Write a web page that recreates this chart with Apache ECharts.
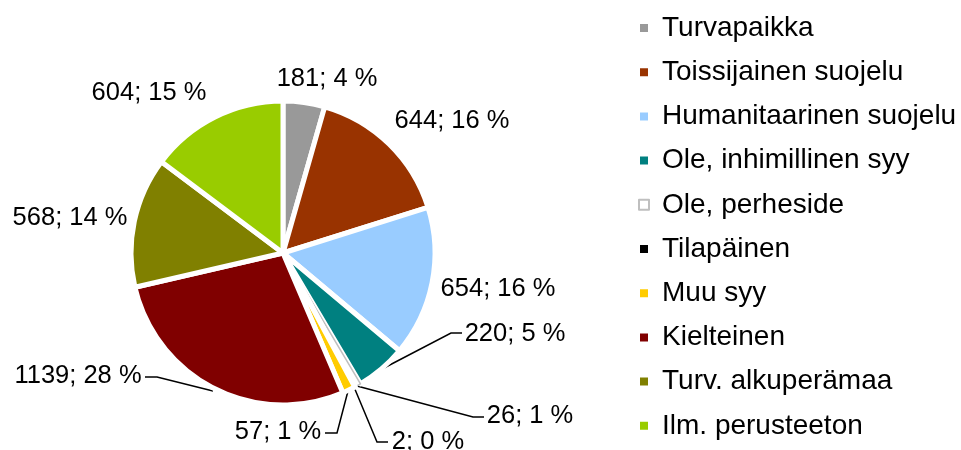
<!DOCTYPE html>
<html>
	<head>
		<meta charset="utf-8">
		<title>Päätökset</title>
		<script src="https://cdn.jsdelivr.net/npm/echarts@6/dist/echarts.min.js" type="text/javascript"></script>
		<style type="text/css">
			html,body{margin: 0; padding: 0; background-color: #fff;}
			#main{width: 961px; height: 450px;}
		</style>
	</head>
	<body>
		<div id="main"></div>
		<script type="text/javascript">
			// 数据
			var categories = ['Turvapaikka', 'Toissijainen suojelu', 'Humanitaarinen suojelu', 'Ole, inhimillinen syy',
				'Ole, perheside', 'Tilapäinen', 'Muu syy', 'Kielteinen', 'Turv. alkuperämaa', 'Ilm. perusteeton'];
			var values = [181, 644, 654, 220, 26, 2, 57, 1139, 568, 604];
			var colors = ['#999999', '#993300', '#99ccff', '#008080', '#ffffff', '#000000', '#ffcc00', '#800000', '#808000', '#99cc00'];

			// 标签位置 (中心点) 和引导线
			var labelPos = [
				{x: 327, y: 79},
				{x: 452, y: 121},
				{x: 498, y: 289},
				{x: 515, y: 334, line: [[382, 369], [451, 333], [462, 333]]},
				{x: 530, y: 416, line: [[357, 386], [473, 417], [484, 417]]},
				{x: 428, y: 442, line: [[354, 387], [377, 442], [388, 442]]},
				{x: 278, y: 432, line: [[348, 391], [337, 433], [325, 433]]},
				{x: 78, y: 376, line: [[213, 391], [157, 377], [145, 377]]},
				{x: 70, y: 218},
				{x: 149, y: 93}
			];

			var pieData = categories.map(function (name, i) {
				var item = {
					name: name,
					value: values[i],
					itemStyle: {color: colors[i]},
					labelLine: {show: !!labelPos[i].line}
				};
				if (name === 'Ole, perheside') {
					item.itemStyle = {color: '#ffffff', borderColor: '#bfbfbf', borderWidth: 1.5};
				}
				return item;
			});

			var myChart = echarts.init(document.getElementById('main'), null, {renderer: 'canvas'});

			var option = {
				animation: false,
				legend: {
					orient: 'vertical',
					left: 633,
					top: 9,
					itemWidth: 10,
					itemHeight: 10,
					itemGap: 16.2,
					icon: 'rect',
					data: categories,
					textStyle: {
						fontFamily: 'Liberation Sans',
						fontSize: 28,
						lineHeight: 28,
						color: '#000',
						padding: [0, 0, 0, 8]
					}
				},
				series: [{
					type: 'pie',
					center: [283, 253],
					radius: 152,
					startAngle: 90,
					clockwise: true,
					avoidLabelOverlap: false,
					itemStyle: {borderColor: '#fff', borderWidth: 5},
					label: {
						show: true,
						position: 'outside',
						fontFamily: 'Liberation Sans',
						fontSize: 25.5,
						color: '#000',
						formatter: function (p) {
							return p.value + '; ' + Math.round(p.percent) + ' %';
						}
					},
					labelLine: {
						show: true,
						lineStyle: {color: '#000', width: 1.5}
					},
					labelLayout: function (params) {
						var pos = labelPos[params.dataIndex];
						var res = {x: pos.x, y: pos.y, align: 'center', verticalAlign: 'middle'};
						if (pos.line) {
							res.labelLinePoints = pos.line;
						}
						return res;
					},
					data: pieData
				}]
			};

			myChart.setOption(option);
		</script>
	</body>
</html>
